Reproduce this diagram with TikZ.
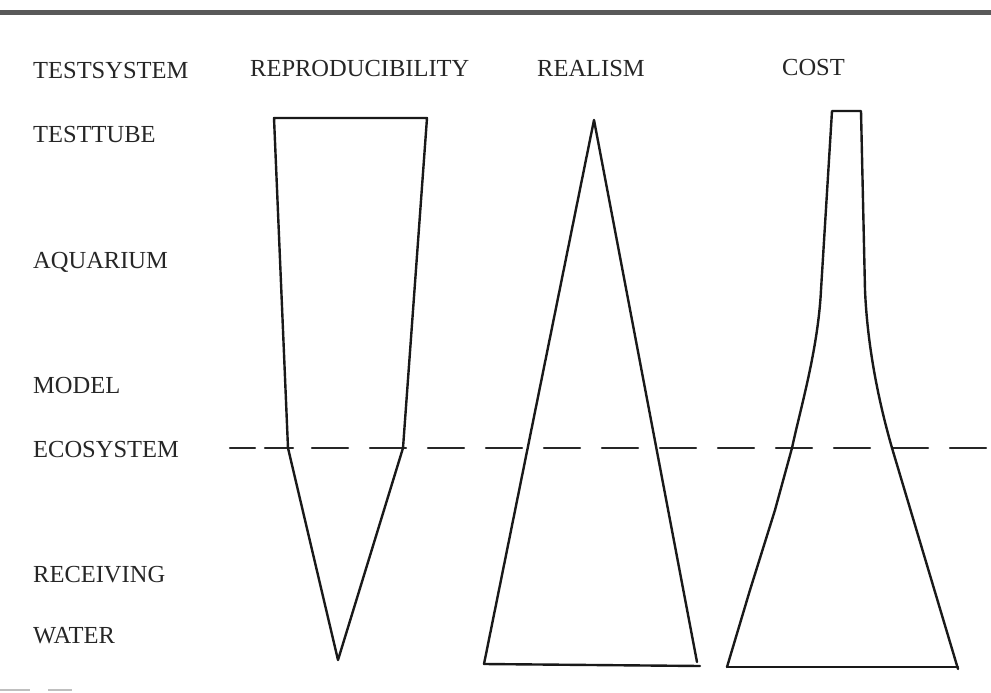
\documentclass[tikz,border=0pt]{standalone}
\usepackage{fontspec}
\setmainfont{Liberation Serif}
\begin{document}
\begin{tikzpicture}[x=1pt,y=-1pt,
  lbl/.style={anchor=base west,inner sep=0pt,text=black!85,font=\fontsize{24.5}{28}\selectfont},
  shape line/.style={draw=black!90,line width=2.4pt,line join=round,line cap=round},
  dashline/.style={draw=black!85,line width=2.4pt,line cap=round}]
\useasboundingbox (0,0) rectangle (991,693);
% top border
\draw[black!65,line width=5pt] (0,13) -- (991,13);
\draw[black!25,line width=1.5pt] (0,690) -- (30,690) (48,690) -- (72,690);
% headers
\node[lbl] (h0) at (33,78) {TESTSYSTEM};
\node[lbl] (h1) at (250,77) {REPRODUCIBILITY};
\node[lbl] (h2) at (537,77) {REALISM};
\node[lbl] (h3) at (782,75) {COST};
% row labels
\node[lbl] (r1) at (33,142) {TESTTUBE};
\node[lbl] (r2) at (33,268) {AQUARIUM};
\node[lbl] (r3) at (33,393) {MODEL};
\node[lbl] (r4) at (33,457) {ECOSYSTEM};
\node[lbl] (r5) at (33,582) {RECEIVING};
\node[lbl] (r6) at (33,643) {WATER};
% dashed ecosystem line
\draw[dashline] (230,448) -- (255,448);
\draw[dashline] (265,448) -- (293,448);
\draw[dashline,dash pattern=on 36pt off 22pt] (312,448) -- (991,448);
% reproducibility
\draw[shape line] (274,118) -- (427,118) -- (403,448) -- (338,660) -- (288,448) -- cycle;
% realism
\draw[shape line] (594,120) -- (697,662) (484,664) -- (594,120);
\draw[shape line] (484,664) -- (700,666);
% cost
\draw[shape line] (727,667) -- (750,590) -- (775,510) -- (792,448)
  .. controls (800,410) and (818,350) .. (821,290) -- (832,111) -- (861,111) -- (865,290)
  .. controls (868,360) and (884,420) .. (892,448) -- (958,669);
\draw[shape line] (727,667) -- (958,667);
\end{tikzpicture}
\end{document}
